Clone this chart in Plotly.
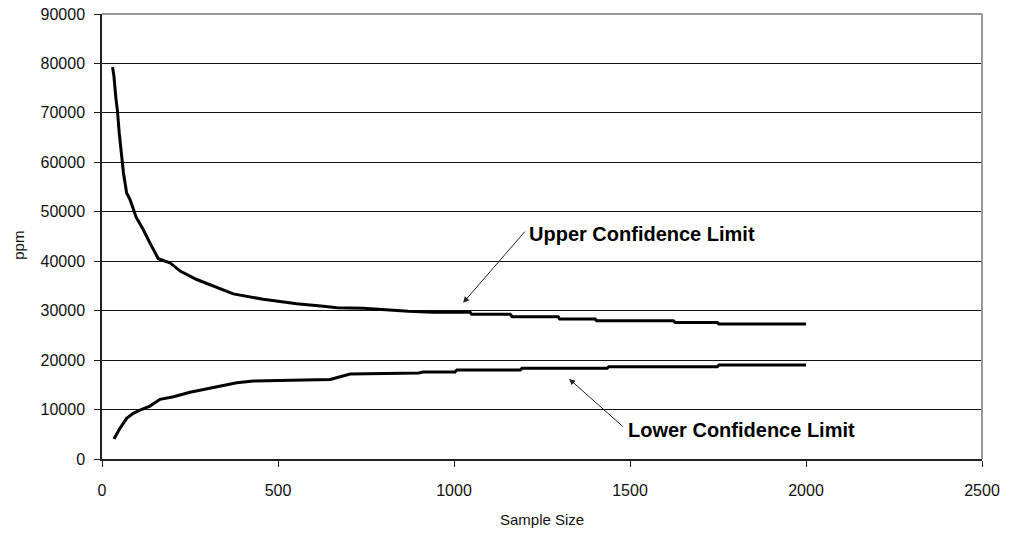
import plotly.graph_objects as go

# Upper confidence limit (ppm) vs sample size
upper_n = [30, 34, 39, 44, 49, 55, 61, 70, 80, 97, 117, 136, 160, 193, 222, 269, 316, 373,
           458, 553, 629, 667, 742, 800, 870, 940, 989, 1046, 1050, 1160, 1165, 1296, 1300,
           1401, 1405, 1623, 1628, 1748, 1752, 2000]
upper_ppm = [79250, 77350, 73300, 70300, 65900, 61900, 57850, 53800, 52400, 48900, 46400, 43700,
             40500, 39700, 38000, 36300, 35000, 33400, 32300, 31400, 30900, 30600, 30500, 30200,
             29900, 29700, 29660, 29660, 29260, 29260, 28770, 28770, 28300, 28300, 27960, 27960,
             27630, 27630, 27300, 27300]

# Lower confidence limit (ppm) vs sample size
lower_n = [34, 51, 70, 89, 108, 136, 165, 203, 250, 298, 354, 383, 430, 525, 648, 705, 900,
           912, 1003, 1008, 1188, 1193, 1435, 1440, 1748, 1753, 2000]
lower_ppm = [4040, 6200, 8230, 9240, 9900, 10700, 12070, 12600, 13500, 14150, 14960, 15430,
             15770, 15970, 16100, 17190, 17400, 17600, 17600, 18000, 18000, 18340, 18340,
             18660, 18660, 19010, 19010]

x_ticks = [0, 500, 1000, 1500, 2000, 2500]
y_ticks = [0, 10000, 20000, 30000, 40000, 50000, 60000, 70000, 80000, 90000]

FONT = "Liberation Sans, Arial, sans-serif"

fig = go.Figure()
fig.add_trace(go.Scatter(x=upper_n, y=upper_ppm, mode="lines",
                         line=dict(color="black", width=3), name="Upper Confidence Limit"))
fig.add_trace(go.Scatter(x=lower_n, y=lower_ppm, mode="lines",
                         line=dict(color="black", width=3), name="Lower Confidence Limit"))

fig.update_layout(
    width=1016, height=535,
    margin=dict(l=102, r=34, t=14, b=76),
    paper_bgcolor="white", plot_bgcolor="white",
    showlegend=False,
    font=dict(family=FONT, size=16, color="#111"),
    xaxis=dict(range=[0, 2500], tickvals=x_ticks, ticktext=[str(v) for v in x_ticks],
               showgrid=False, zeroline=False, showline=True, linecolor="#222", linewidth=1.5,
               ticks="outside", ticklen=6, tickcolor="#222", ticklabelstandoff=10,
               automargin=False),
    yaxis=dict(range=[0, 90000], tickvals=y_ticks, ticktext=[str(v) for v in y_ticks],
               showgrid=True, gridcolor="#111", gridwidth=1.3, zeroline=False,
               showline=True, linecolor="#222", linewidth=1.5,
               ticks="outside", ticklen=6, tickcolor="#222", ticklabelstandoff=6,
               automargin=False),
)

# axis titles
fig.add_annotation(x=0.5, y=-0.137, xref="paper", yref="paper", text="Sample Size",
                   showarrow=False, xanchor="center", yanchor="middle",
                   font=dict(size=15, family=FONT, color="#111"))
fig.add_annotation(x=-0.095, y=0.48, xref="paper", yref="paper", text="ppm", textangle=-90,
                   showarrow=False, xanchor="center", yanchor="middle",
                   font=dict(size=15, family=FONT, color="#111"))

# gray plot border on top and right
fig.add_shape(type="line", xref="paper", yref="paper", x0=0, x1=1, y0=1, y1=1,
              line=dict(color="#999", width=2), layer="above")
fig.add_shape(type="line", xref="paper", yref="paper", x0=1, x1=1, y0=0, y1=1,
              line=dict(color="#999", width=2), layer="above")

# labels
fig.add_annotation(x=1208, y=45600, xref="x", yref="y", text="<b>Upper Confidence Limit</b>",
                   showarrow=False, xanchor="left", yanchor="middle",
                   font=dict(size=20, family=FONT, color="black"))
fig.add_annotation(x=1026, y=31600, ax=1205, ay=46300, xref="x", yref="y", axref="x", ayref="y",
                   text="", showarrow=True, arrowhead=2, arrowsize=1.2, arrowwidth=1,
                   arrowcolor="#222", standoff=0)
fig.add_annotation(x=1488, y=5900, xref="x", yref="y", text="<b>Lower Confidence Limit</b>",
                   showarrow=False, xanchor="left", yanchor="middle",
                   font=dict(size=20, family=FONT, color="black"))
fig.add_annotation(x=1327, y=16200, ax=1484, ay=6300, xref="x", yref="y", axref="x", ayref="y",
                   text="", showarrow=True, arrowhead=2, arrowsize=1.2, arrowwidth=1,
                   arrowcolor="#222", standoff=0)

fig.write_html("out.html")
